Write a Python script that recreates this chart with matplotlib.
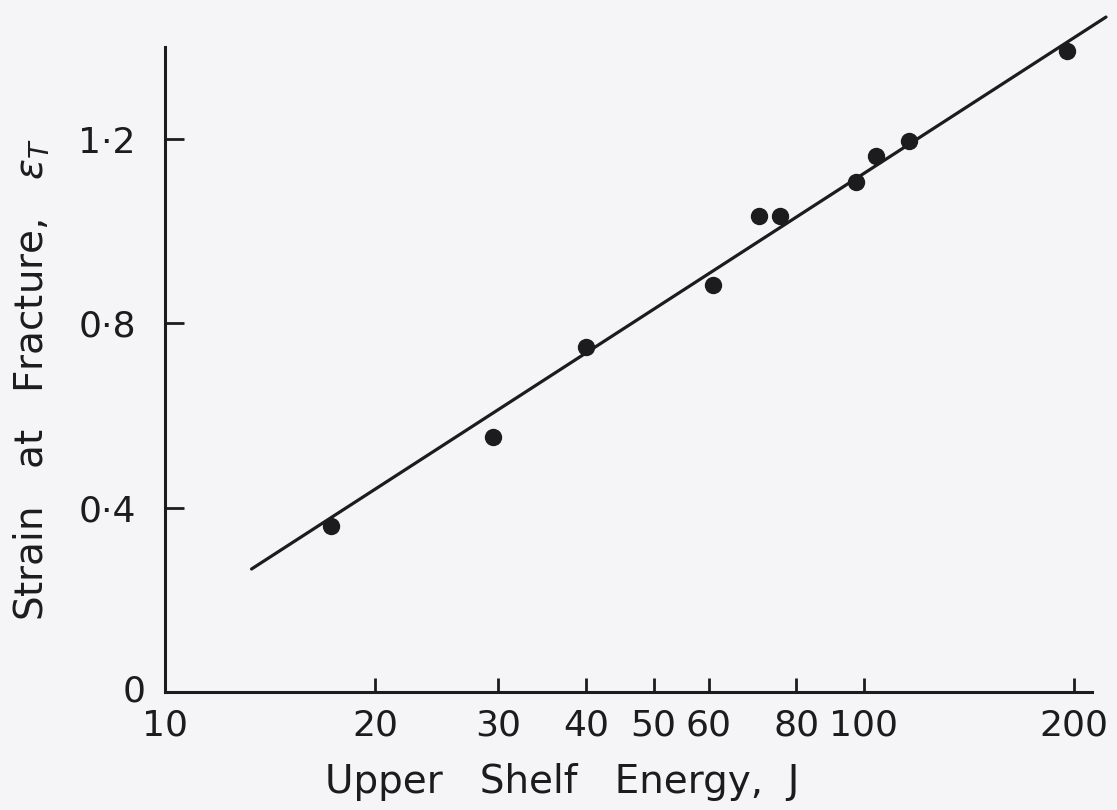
import numpy as np
import matplotlib
matplotlib.use("Agg")
import matplotlib.pyplot as plt
from matplotlib.ticker import FixedLocator, NullLocator

# Data
energy = [17.3, 29.5, 40, 60.8, 70.7, 75.8, 97.4, 104, 116, 195]
strain = [0.361, 0.554, 0.748, 0.883, 1.033, 1.033, 1.107, 1.163, 1.196, 1.391]
fit_energy = [13.3, 222]
fit_strain = [0.267, 1.465]

xticks = [10, 20, 30, 40, 50, 60, 80, 100, 200]
xticklabels = ["10", "20", "30", "40", "50", "60", "80", "100", "200"]
yticks = [0, 0.4, 0.8, 1.2]
yticklabels = ["0", "0·4", "0·8", "1·2"]

ink = "#1c1c1e"
bg = "#f5f5f7"

plt.rcParams['font.family'] = ['DejaVu Sans']
plt.rcParams['mathtext.fontset'] = 'dejavusans'

fs = 26
lfs = 28

fig = plt.figure(figsize=(11.17, 8.10), dpi=100, facecolor=bg)
ax = fig.add_axes([165/1117, 1 - 692/810, (1092-165)/1117, (692-47)/810])
ax.set_facecolor(bg)

ax.plot(fit_energy, fit_strain, color=ink, lw=2.3, clip_on=False, solid_capstyle='round')
ax.plot(energy, strain, 'o', color=ink, ms=11.5, clip_on=False)

ax.set_xscale('log')
ax.set_xlim(10, 212)
ax.set_ylim(0, 1.40)

ax.xaxis.set_major_locator(FixedLocator(xticks[1:]))
ax.xaxis.set_minor_locator(NullLocator())
ax.set_xticklabels(xticklabels[1:])
ax.yaxis.set_major_locator(FixedLocator(yticks[1:]))
ax.set_yticklabels(yticklabels[1:])

for s in ['top', 'right']:
    ax.spines[s].set_visible(False)
for s in ['left', 'bottom']:
    ax.spines[s].set_linewidth(2.2)
    ax.spines[s].set_color(ink)

ax.tick_params(axis='x', direction='in', length=10, width=2, color=ink,
               labelsize=fs, labelcolor=ink, pad=12)
ax.tick_params(axis='y', direction='in', length=14, width=2, color=ink,
               labelsize=fs, labelcolor=ink, pad=21)

# origin labels
ax.annotate(xticklabels[0], xy=(0, 0), xycoords='axes fraction', xytext=(0, -12),
            textcoords='offset points', ha='center', va='top', fontsize=fs, color=ink)
ax.annotate(yticklabels[0], xy=(0, 0), xycoords='axes fraction', xytext=(-14, 0),
            textcoords='offset points', ha='right', va='center', fontsize=fs, color=ink)

fig.text(562/1117, 1 - 782/810, "Upper   Shelf   Energy,  J", ha='center', va='center',
         fontsize=lfs, color=ink)
fig.text(32/1117, 1 - 380/810, r"Strain   at   Fracture,   $\varepsilon_T$", ha='center',
         va='center', rotation=90, fontsize=lfs, color=ink)

fig.savefig("out.png", dpi=100, facecolor=bg)
